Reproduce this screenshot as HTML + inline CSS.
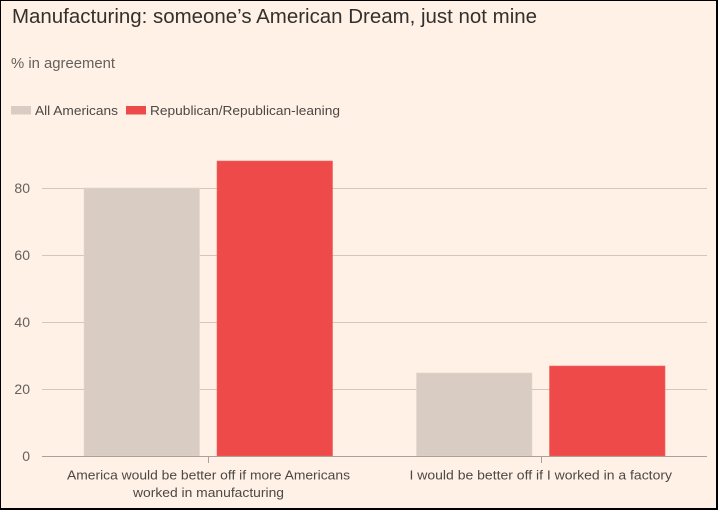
<!DOCTYPE html>
<html>
<head>
<meta charset="utf-8">
<style>
html,body{margin:0;padding:0;background:#fff1e5;}
svg{display:block;}
text{font-family:"Liberation Sans",sans-serif;}
</style>
</head>
<body>
<svg width="718" height="510" viewBox="0 0 718 510" xmlns="http://www.w3.org/2000/svg">
<rect x="0" y="0" width="718" height="510" fill="#fff1e6"/>
<!-- title -->
<text x="12" y="23" font-size="20" fill="#33302e" textLength="525" lengthAdjust="spacingAndGlyphs">Manufacturing: someone’s American Dream, just not mine</text>
<text x="11" y="68" font-size="14.5" fill="#66605c" textLength="104" lengthAdjust="spacingAndGlyphs">% in agreement</text>
<!-- legend -->
<rect x="11" y="106" width="20" height="8.5" fill="#d9ccc3"/>
<text x="35" y="115" font-size="13" fill="#4d4845" textLength="83" lengthAdjust="spacingAndGlyphs">All Americans</text>
<rect x="126" y="106" width="20" height="8.5" fill="#ee4a4a"/>
<text x="150" y="115" font-size="13" fill="#4d4845" textLength="190" lengthAdjust="spacingAndGlyphs">Republican/Republican-leaning</text>
<!-- gridlines -->
<g stroke="#d3c7bd" stroke-width="1">
<line x1="42" y1="188.5" x2="707" y2="188.5"/>
<line x1="42" y1="255.5" x2="707" y2="255.5"/>
<line x1="42" y1="322.5" x2="707" y2="322.5"/>
<line x1="42" y1="389.5" x2="707" y2="389.5"/>
</g>
<!-- y labels -->
<g font-size="14" fill="#66605c" text-anchor="end">
<text x="30" y="193">80</text>
<text x="30" y="260">60</text>
<text x="30" y="327">40</text>
<text x="30" y="394">20</text>
<text x="30" y="461">0</text>
</g>
<!-- bars -->
<rect x="84" y="188" width="115.5" height="268" fill="#d9ccc3" stroke="#e2d7ce" stroke-width="0.6"/>
<rect x="217" y="161" width="115.5" height="295" fill="#ee4a4a" stroke="#f26565" stroke-width="0.6"/>
<rect x="416.5" y="373" width="115.5" height="83" fill="#d9ccc3" stroke="#e2d7ce" stroke-width="0.6"/>
<rect x="549.5" y="366" width="115.5" height="90" fill="#ee4a4a" stroke="#f26565" stroke-width="0.6"/>
<!-- zero axis -->
<line x1="42" y1="456.5" x2="707" y2="456.5" stroke="#a8a19c" stroke-width="1"/>
<line x1="208.5" y1="456" x2="208.5" y2="463" stroke="#a8a19c" stroke-width="1"/>
<line x1="541.5" y1="456" x2="541.5" y2="463" stroke="#a8a19c" stroke-width="1"/>
<!-- x labels -->
<g font-size="13" fill="#4d4845">
<text x="67" y="479.5" textLength="283" lengthAdjust="spacingAndGlyphs">America would be better off if more Americans</text>
<text x="133" y="497" textLength="151" lengthAdjust="spacingAndGlyphs">worked in manufacturing</text>
<text x="409.5" y="479.5" textLength="262.5" lengthAdjust="spacingAndGlyphs">I would be better off if I worked in a factory</text>
</g>
<!-- border -->
<rect x="0" y="0" width="718" height="1" fill="#000"/>
<rect x="0" y="0" width="1" height="510" fill="#000"/>
<rect x="716" y="0" width="2" height="510" fill="#000"/>
<rect x="0" y="508" width="718" height="2" fill="#000"/>
</svg>
</body>
</html>
